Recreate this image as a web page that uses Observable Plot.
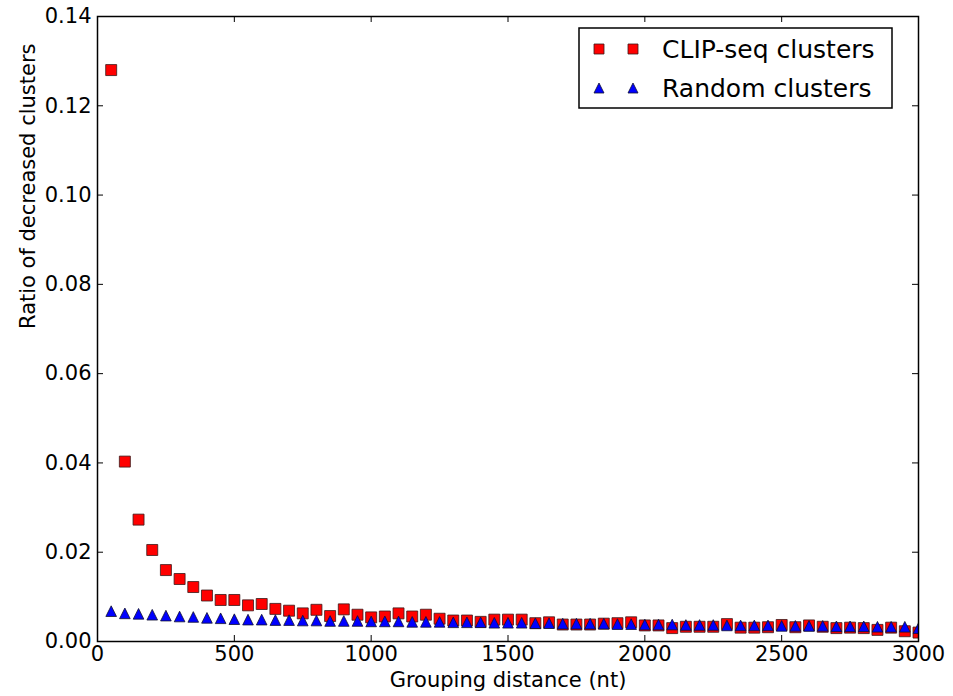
<!DOCTYPE html>
<html>
<head>
<meta charset="utf-8">
<script src="https://cdn.jsdelivr.net/npm/d3@7"></script>
<script src="https://cdn.jsdelivr.net/npm/@observablehq/plot@0.6"></script>
<style>
  body { margin: 0; background: #fff; }
  #wrap { position: relative; width: 953px; height: 696px; background: #fff; }
  #legend { position: absolute; left: 578px; top: 27px; }
</style>
</head>
<body>
<div id="wrap"></div>
<script>
// ---- data ----
const distances = [50,100,150,200,250,300,350,400,450,500,550,600,650,700,750,800,850,900,950,1000,
  1050,1100,1150,1200,1250,1300,1350,1400,1450,1500,1550,1600,1650,1700,1750,1800,1850,1900,1950,2000,
  2050,2100,2150,2200,2250,2300,2350,2400,2450,2500,2550,2600,2650,2700,2750,2800,2850,2900,2950,3000];
const clipSeq = [0.1280,0.0403,0.0273,0.0205,0.0160,0.0140,0.0122,0.0103,0.0093,0.0093,0.0081,0.0084,0.0073,0.0069,0.0063,0.0071,0.0057,0.0072,0.0060,0.0054,
  0.0056,0.0063,0.0056,0.0060,0.0051,0.0047,0.0047,0.0044,0.0049,0.0049,0.0049,0.0041,0.0043,0.0038,0.0038,0.0038,0.0040,0.0041,0.0043,0.0036,
  0.0036,0.0030,0.0033,0.0033,0.0033,0.0039,0.0031,0.0031,0.0032,0.0037,0.0032,0.0036,0.0033,0.0030,0.0031,0.0030,0.0026,0.0031,0.0023,0.0020];
const randomClusters = [0.0068,0.0063,0.0062,0.0060,0.0058,0.0056,0.0055,0.0053,0.0052,0.0050,0.0049,0.0049,0.0048,0.0048,0.0047,0.0047,0.0046,0.0046,0.0046,0.0045,
  0.0045,0.0045,0.0044,0.0044,0.0044,0.0043,0.0043,0.0043,0.0042,0.0042,0.0042,0.0041,0.0041,0.0040,0.0040,0.0040,0.0040,0.0039,0.0039,0.0038,
  0.0038,0.0038,0.0037,0.0037,0.0037,0.0036,0.0036,0.0036,0.0036,0.0035,0.0035,0.0035,0.0035,0.0034,0.0034,0.0034,0.0033,0.0033,0.0033,0.0030];
const seriesNames = ["CLIP-seq clusters", "Random clusters"];
const xTicks = [0,500,1000,1500,2000,2500,3000];
const yTicks = [0,0.02,0.04,0.06,0.08,0.10,0.12,0.14];
const xLabel = "Grouping distance (nt)";
const yLabel = "Ratio of decreased clusters";

// ---- layout ----
const W = 953, H = 696, mL = 97, mR = 35, mT = 16, mB = 55;
const pw = W - mL - mR, ph = H - mT - mB, tick = 6;
const FONT = "DejaVu Sans";

const clipData = distances.map((d, i) => ({d, v: clipSeq[i]}));
const randData = distances.map((d, i) => ({d, v: randomClusters[i]}));

const triUp = {
  draw(ctx, size) {
    const h = Math.sqrt(size) / 2;
    ctx.moveTo(0, -h); ctx.lineTo(h, h); ctx.lineTo(-h, h); ctx.closePath();
  }
};

const chart = Plot.plot({
  width: W, height: H,
  marginLeft: mL, marginRight: mR, marginTop: mT, marginBottom: mB,
  style: {fontFamily: FONT, fontSize: "21px", background: "white", color: "black"},
  x: {domain: [0, 3000], ticks: xTicks, tickFormat: d => String(d), tickSize: 0, tickPadding: 5, label: null},
  y: {domain: [0, 0.14], ticks: yTicks, tickFormat: d3.format(".2f"), tickSize: 0, tickPadding: 6, label: null},
  marks: [
    Plot.dot(clipData, {x: "d", y: "v", symbol: "square", r: 6.2, fill: "#ff0000", stroke: "#3a1a1a", strokeWidth: 0.8, clip: true}),
    Plot.dot(randData, {x: "d", y: "v", symbol: triUp, r: 6.0, fill: "#0000ff", stroke: "#101030", strokeWidth: 0.8, clip: true}),
    Plot.ruleX(xTicks, {x: d => d, insetTop: ph - tick, stroke: "black", strokeWidth: 1}),
    Plot.ruleX(xTicks, {x: d => d, insetBottom: ph - tick, stroke: "black", strokeWidth: 1}),
    Plot.ruleY(yTicks, {y: d => d, insetRight: pw - tick, stroke: "black", strokeWidth: 1}),
    Plot.ruleY(yTicks, {y: d => d, insetLeft: pw - tick, stroke: "black", strokeWidth: 1}),
    Plot.frame({stroke: "black", strokeWidth: 1.5}),
    Plot.text([xLabel], {text: d => d, frameAnchor: "bottom", dy: 45, fontSize: 21, fill: "black"}),
    Plot.text([yLabel], {text: d => d, frameAnchor: "left", dx: -69, rotate: -90, fontSize: 21, fill: "black"})
  ]
});
document.getElementById("wrap").appendChild(chart);

// ---- legend ----
const legend = d3.select("#wrap").append("svg")
  .attr("id", "legend").attr("width", 316).attr("height", 83)
  .style("font-family", FONT);
legend.append("rect").attr("x", 1).attr("y", 1).attr("width", 313).attr("height", 80)
  .attr("fill", "white").attr("stroke", "black").attr("stroke-width", 1.5);
const sq = d3.symbol(d3.symbolSquare, 100);
const tri = d3.symbol(triUp, 100);
const rows = [
  {name: seriesNames[0], y: 22, path: sq(), fill: "#ff0000", stroke: "#3a1a1a"},
  {name: seriesNames[1], y: 61, path: tri(), fill: "#0000ff", stroke: "#101030"}
];
rows.forEach(r => {
  [21, 55].forEach(x => legend.append("path").attr("d", r.path)
    .attr("transform", `translate(${x},${r.y})`)
    .attr("fill", r.fill).attr("stroke", r.stroke).attr("stroke-width", 0.8));
  legend.append("text").attr("x", 84).attr("y", r.y).attr("dy", "0.36em")
    .attr("font-size", 25).attr("fill", "black").text(r.name);
});
</script>
</body>
</html>
